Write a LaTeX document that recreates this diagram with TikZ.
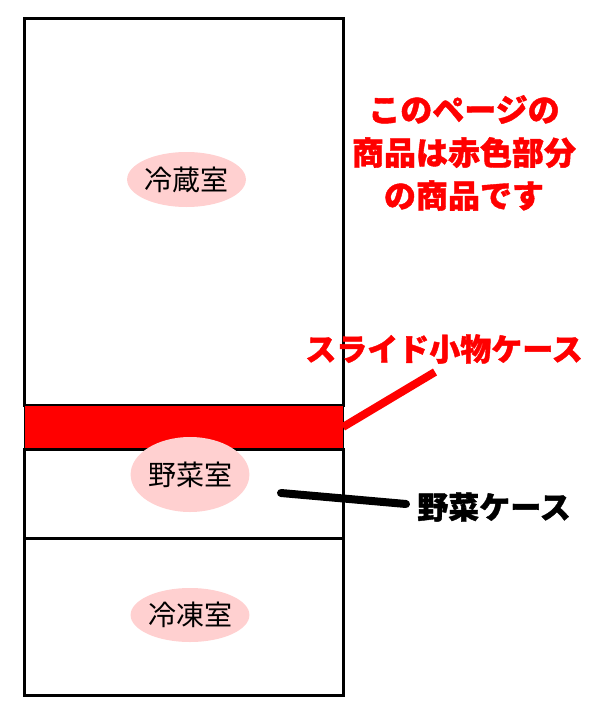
\documentclass[tikz,border=0pt]{standalone}
\usepackage{fontspec}
\newfontfamily\jp{Noto Sans CJK JP}
\newfontfamily\jpheavy[FakeBold=1.2]{Noto Sans CJK JP}
\usetikzlibrary{shapes.geometric}
\definecolor{pinkfill}{HTML}{FFD0D0}
\definecolor{brightred}{HTML}{FF0000}
\begin{document}
\begin{tikzpicture}[x=1pt,y=-1pt,
 compartment/.style={draw=black, line width=3pt, inner sep=0pt, outer sep=0pt, minimum width=319pt},
 roomlabel/.style={ellipse, fill=pinkfill, inner sep=0pt, font=\jp\fontsize{28}{30}\selectfont, text=black},
 callout/.style={font=\jpheavy\bfseries\fontsize{31}{43}\selectfont, inner sep=0pt, align=center},
 leader/.style={line width=8pt, line cap=round}]
\useasboundingbox[fill=white] (0,0) rectangle (600,720);
% compartments
\node[compartment, minimum height=387pt] (reizo) at (183.5,211.5) {};
\node[draw=black, line width=1pt, fill=brightred, inner sep=0pt, outer sep=0pt, minimum width=319pt, minimum height=44pt] (band) at (183.5,427) {};
\node[compartment, minimum height=89pt] (yasai) at (183.5,493.5) {};
\node[compartment, minimum height=157pt] (reito) at (183.5,616.5) {};
% room labels
\node[roomlabel, minimum width=117pt, minimum height=55pt] (reizolabel) at (186.5,179.5) {冷蔵室};
\node[roomlabel, minimum width=116pt, minimum height=75pt] (yasailabel) at (190,474.5) {野菜室};
\node[roomlabel, minimum width=116pt, minimum height=54pt] (reitolabel) at (190,615) {冷凍室};
% callouts
\node[callout, text=brightred, font=\jpheavy\bfseries\fontsize{32}{43}\selectfont] (note) at (464,153) {このページの\\商品は赤色部分\\の商品です};
\node[callout, text=brightred] (slide) at (444,349) {スライド小物ケース};
\node[callout, text=black] (vegcase) at (494,507) {野菜ケース};
% leaders
\coordinate (slidetip) at (435,372);
\coordinate (vegtip) at (281,493);
\coordinate (vegcasetip) at (406,504);
\draw[leader, brightred, line cap=butt] (band.east) -- (slidetip);
\draw[leader, black] (vegtip) -- (vegcasetip);
\end{tikzpicture}
\end{document}
